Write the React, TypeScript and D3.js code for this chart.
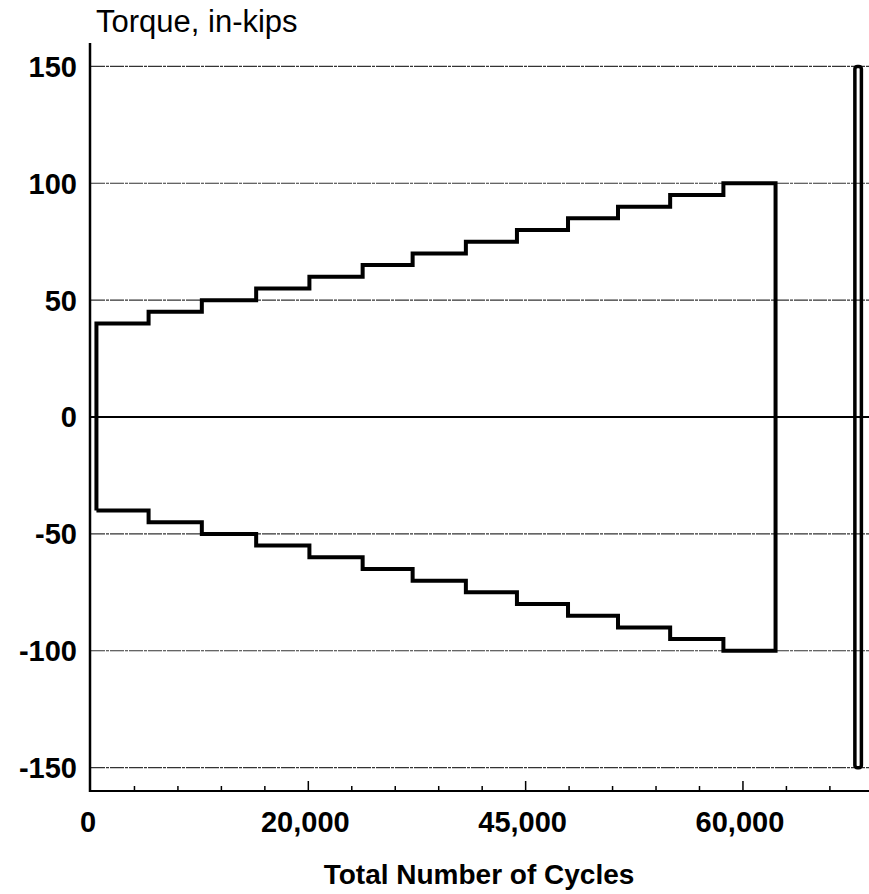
import { useEffect, useRef } from "react";
import * as d3 from "d3";

// Step boundaries (cycles) and torque level held in each step
const STEP_EDGES = [500, 5300, 10200, 15200, 20100, 25000, 29600, 34500, 39200, 43900, 48500, 53300, 58200, 63000];
const STEP_LEVELS = [40, 45, 50, 55, 60, 65, 70, 75, 80, 85, 90, 95, 100];

// Final narrow spike (drawn as a tall thin box)
const SPIKE_CYCLES = [70300, 70900];
const SPIKE_RANGE = [-150, 150];

// Axis ticks
const Y_TICKS = [150, 100, 50, 0, -50, -100, -150];
const X_MAJOR = [0, 20000, 40000, 60000];
const X_LABELS = ["0", "20,000", "45,000", "60,000"];
const X_MINOR_STEP = 4000;

const W = 869;
const H = 894;
const FONT = "'Liberation Sans', Arial, sans-serif";

export default function App() {
  const svgRef = useRef<SVGSVGElement>(null);

  useEffect(() => {
    const svg = d3.select(svgRef.current);
    svg.selectAll("*").remove();

    const left = 91, right = 869, top = 43, bottom = 791;

    const x = d3.scaleLinear().domain([0, 71600]).range([left, right]);
    const y = d3.scaleLinear().domain([-160, 160]).range([bottom, top]);

    // ----- gridlines -----
    svg.append("g")
      .selectAll("line")
      .data(Y_TICKS.filter((v) => v !== 0))
      .join("line")
      .attr("x1", left).attr("x2", right)
      .attr("y1", (d) => y(d)).attr("y2", (d) => y(d))
      .attr("stroke", "#333")
      .attr("stroke-width", 1.2)
      .attr("stroke-dasharray", "14,1,3,1");

    // zero line is solid black
    svg.append("line")
      .attr("x1", left).attr("x2", right)
      .attr("y1", y(0)).attr("y2", y(0))
      .attr("stroke", "#000")
      .attr("stroke-width", 2);

    // ----- y labels -----
    svg.append("g")
      .selectAll("text")
      .data(Y_TICKS)
      .join("text")
      .attr("x", 77)
      .attr("y", (d) => y(d))
      .attr("dy", "0.36em")
      .attr("text-anchor", "end")
      .attr("font-family", FONT)
      .attr("font-weight", "bold")
      .attr("font-size", 29)
      .text((d) => String(d));

    // ----- axes lines -----
    svg.append("line")
      .attr("x1", left - 1).attr("x2", left - 1)
      .attr("y1", top).attr("y2", bottom + 1)
      .attr("stroke", "#000").attr("stroke-width", 2.5);
    svg.append("line")
      .attr("x1", left - 2).attr("x2", right)
      .attr("y1", bottom).attr("y2", bottom)
      .attr("stroke", "#000").attr("stroke-width", 2);

    // x ticks (pointing up into the plot)
    const minor = d3.range(0, 71600, X_MINOR_STEP).filter((v) => !X_MAJOR.includes(v) && v > 0);
    svg.append("g")
      .selectAll("line")
      .data(minor)
      .join("line")
      .attr("x1", (d) => x(d)).attr("x2", (d) => x(d))
      .attr("y1", bottom).attr("y2", bottom - 5)
      .attr("stroke", "#000").attr("stroke-width", 1.5);
    svg.append("g")
      .selectAll("line")
      .data(X_MAJOR.filter((v) => v > 0))
      .join("line")
      .attr("x1", (d) => x(d)).attr("x2", (d) => x(d))
      .attr("y1", bottom).attr("y2", bottom - 10)
      .attr("stroke", "#000").attr("stroke-width", 1.5);

    svg.append("g")
      .selectAll("text")
      .data(X_MAJOR)
      .join("text")
      .attr("x", (d) => x(d) - 3)
      .attr("y", 832)
      .attr("text-anchor", "middle")
      .attr("font-family", FONT)
      .attr("font-weight", "bold")
      .attr("font-size", 29)
      .text((_, i) => X_LABELS[i]);

    // ----- stepped loading envelope -----
    const pts: [number, number][] = [];
    pts.push([STEP_EDGES[0], -STEP_LEVELS[0]]);
    STEP_LEVELS.forEach((lv, i) => {
      pts.push([STEP_EDGES[i], lv]);
      pts.push([STEP_EDGES[i + 1], lv]);
    });
    for (let i = STEP_LEVELS.length - 1; i >= 0; i--) {
      pts.push([STEP_EDGES[i + 1], -STEP_LEVELS[i]]);
      pts.push([STEP_EDGES[i], -STEP_LEVELS[i]]);
    }
    const line = d3.line<[number, number]>()
      .x((d) => x(d[0]))
      .y((d) => y(d[1]));
    svg.append("path")
      .datum(pts)
      .attr("d", line)
      .attr("fill", "none")
      .attr("stroke", "#000")
      .attr("stroke-width", 4)
      .attr("stroke-linejoin", "miter");

    // ----- final spike box -----
    svg.append("rect")
      .attr("x", x(SPIKE_CYCLES[0]))
      .attr("width", x(SPIKE_CYCLES[1]) - x(SPIKE_CYCLES[0]))
      .attr("y", y(SPIKE_RANGE[1]))
      .attr("height", y(SPIKE_RANGE[0]) - y(SPIKE_RANGE[1]))
      .attr("rx", 2.5)
      .attr("fill", "none")
      .attr("stroke", "#000")
      .attr("stroke-width", 3.5);

    // ----- titles -----
    svg.append("text")
      .attr("x", 96).attr("y", 32)
      .attr("font-family", FONT)
      .attr("font-size", 31)
      .text("Torque, in-kips");

    svg.append("text")
      .attr("x", 479).attr("y", 884)
      .attr("text-anchor", "middle")
      .attr("font-family", FONT)
      .attr("font-weight", "bold")
      .attr("font-size", 28)
      .text("Total Number of Cycles");
  }, []);

  return (
    <svg
      ref={svgRef}
      width={W}
      height={H}
      style={{ position: "absolute", left: 0, top: 0, background: "#fff" }}
    />
  );
}
